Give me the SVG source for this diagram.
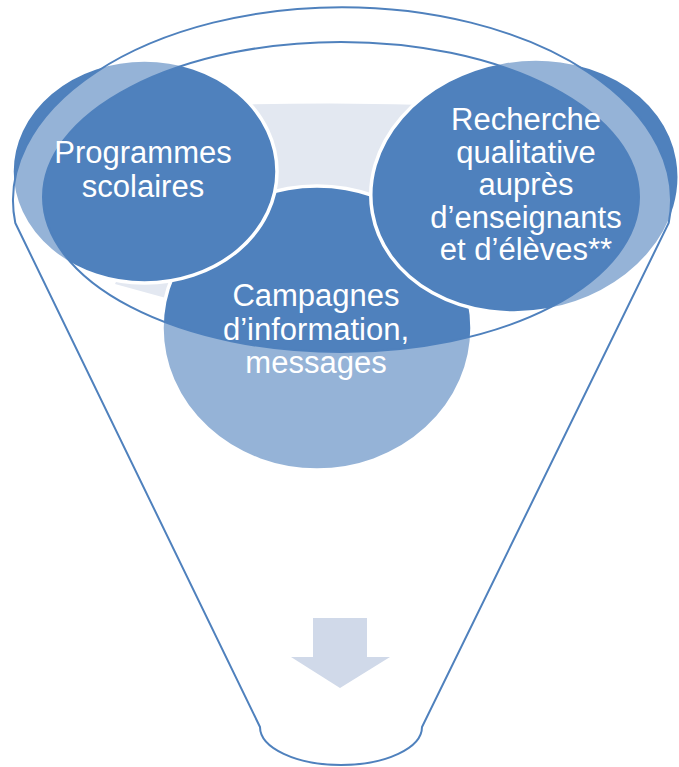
<svg xmlns="http://www.w3.org/2000/svg" width="679" height="767" viewBox="0 0 679 767">
  <style>
    .circle { fill: #4f81bd; stroke: #ffffff; stroke-width: 3.5; }
    .label { font-family: "Liberation Sans", Arial, sans-serif; font-size: 31px; fill: #ffffff; text-anchor: middle; }
    .funnel { fill: #ffffff; fill-opacity: 0.4; fill-rule: evenodd; stroke: #4f81bd; stroke-width: 2; }
  </style>
  <rect width="679" height="767" fill="#ffffff"/>
  <g id="background-shape">
    <path d="M200,106 Q330,101 460,106 L300,335 L115,284 Z" fill="#e3e8f1"/>
  </g>
  <g id="node-campagnes">
    <ellipse class="circle" cx="317" cy="328" rx="155" ry="142"/>
  </g>
  <g id="node-programmes">
    <ellipse class="circle" cx="144.5" cy="171.5" rx="132.5" ry="111.5"/>
  </g>
  <g id="node-recherche">
    <ellipse class="circle" cx="525" cy="186" rx="155" ry="126" transform="rotate(-10 525 186)"/>
  </g>
  <g id="funnel">
    <path class="funnel" d="M15.3,223 L260,727 A81,38 0 0 0 422,727 L668.7,223 A329,193 0 1 0 15.3,223 Z M43,197 A298,155 0 1 0 639,197 A298,155 0 1 0 43,197 Z"/>
  </g>
  <g id="connectors">
    <path d="M313,618 L367,618 L367,657 L390,657 L340,688 L291,657 L313,657 Z" fill="#d0d9e9"/>
  </g>
  <g id="labels">
    <text class="label" x="143" y="163">Programmes</text>
    <text class="label" x="143" y="197">scolaires</text>
    <text class="label" x="526" y="130">Recherche</text>
    <text class="label" x="526" y="162.5">qualitative</text>
    <text class="label" x="526" y="195">auprès</text>
    <text class="label" x="526" y="227.5">d’enseignants</text>
    <text class="label" x="526" y="260">et d’élèves**</text>
    <text class="label" x="316" y="306">Campagnes</text>
    <text class="label" x="316" y="340">d’information,</text>
    <text class="label" x="316" y="373">messages</text>
  </g>
</svg>
